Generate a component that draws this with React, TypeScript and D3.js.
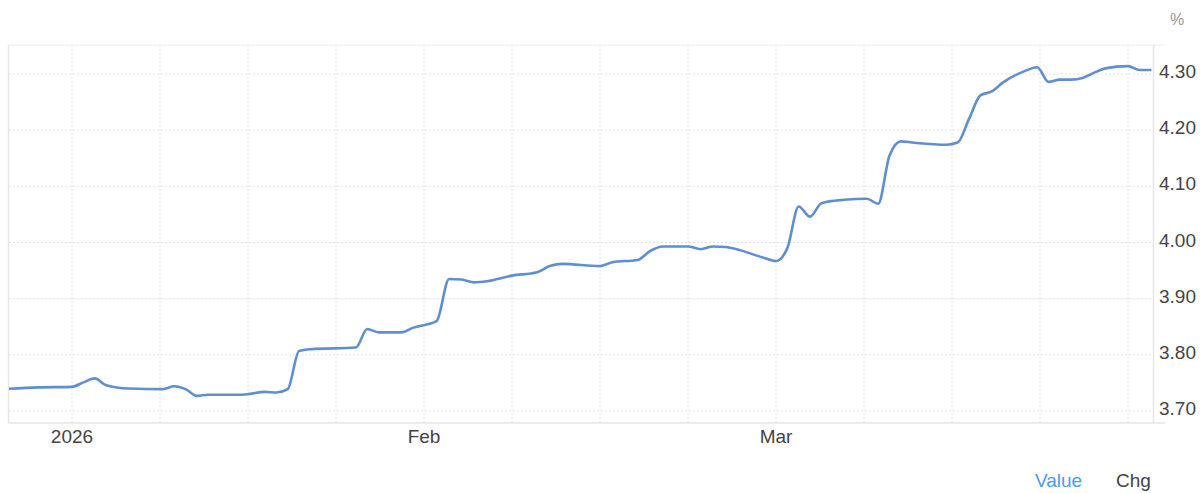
import * as d3 from "d3";
import React from "react";

// observations (date, %)
const dates = [
  "2025-12-26", "2025-12-29", "2026-01-01", "2026-01-02", "2026-01-03", "2026-01-04",
  "2026-01-06", "2026-01-09", "2026-01-10", "2026-01-11", "2026-01-12", "2026-01-13",
  "2026-01-16", "2026-01-18", "2026-01-19", "2026-01-20", "2026-01-21", "2026-01-22",
  "2026-01-26", "2026-01-27", "2026-01-28", "2026-01-30", "2026-01-31", "2026-02-02",
  "2026-02-03", "2026-02-04", "2026-02-05", "2026-02-06", "2026-02-08", "2026-02-10",
  "2026-02-11", "2026-02-12", "2026-02-15", "2026-02-16", "2026-02-18", "2026-02-19",
  "2026-02-20", "2026-02-22", "2026-02-23", "2026-02-24", "2026-02-25", "2026-02-28",
  "2026-03-01", "2026-03-02", "2026-03-03", "2026-03-04", "2026-03-05", "2026-03-07",
  "2026-03-09", "2026-03-10", "2026-03-11", "2026-03-12", "2026-03-13", "2026-03-16",
  "2026-03-17", "2026-03-18", "2026-03-19", "2026-03-20", "2026-03-21", "2026-03-23",
  "2026-03-24", "2026-03-25", "2026-03-26", "2026-03-27", "2026-03-28", "2026-03-29",
  "2026-03-30", "2026-04-01", "2026-04-02", "2026-04-03",
];
const values = [
  3.739, 3.742, 3.743, 3.751, 3.758, 3.746,
  3.740, 3.739, 3.744, 3.739, 3.727, 3.729,
  3.729, 3.734, 3.733, 3.739, 3.807, 3.810,
  3.813, 3.846, 3.840, 3.840, 3.848, 3.860,
  3.935, 3.934, 3.929, 3.931, 3.941, 3.947,
  3.958, 3.962, 3.958, 3.965, 3.969, 3.985,
  3.993, 3.993, 3.988, 3.993, 3.992, 3.973,
  3.967, 3.990, 4.064, 4.046, 4.070, 4.076,
  4.078, 4.069, 4.155, 4.180, 4.178, 4.174,
  4.178, 4.220, 4.262, 4.269, 4.285, 4.306,
  4.312, 4.286, 4.290, 4.290, 4.293, 4.302,
  4.310, 4.314, 4.307, 4.307,
];

const yTicks = [3.7, 3.8, 3.9, 4.0, 4.1, 4.2, 4.3];
const monthStarts = ["2025-12-01", "2026-01-01", "2026-02-01", "2026-03-01", "2026-04-01", "2026-05-01"];
const monthLabels = ["2026", "Feb", "Mar"];
const legendItems = ["Value", "Chg"];

const W = 1204, H = 493;
const left = 9, right = 1153, top = 45, bottom = 423;

export default function App() {
  const parse = d3.utcParse("%Y-%m-%d");
  const mDates = monthStarts.map((s) => parse(s) as Date);
  // each month gets equal width on this chart
  const x = d3.scaleUtc()
    .domain(mDates)
    .range(mDates.map((_, i) => 72 + (i - 1) * 352));
  const y = d3.scaleLinear().domain([3.7, 4.3]).range([411, 74]);

  const data = dates.map((d, i) => ({ d: parse(d) as Date, v: values[i] }));
  const line = d3.line<{ d: Date; v: number }>()
    .x((p) => x(p.d))
    .y((p) => y(p.v))
    .curve(d3.curveMonotoneX);

  // vertical grid at quarter-month steps
  const vGrid: number[] = [];
  for (let i = 1; i < 4; i++) {
    const a = x(mDates[i]), b = x(mDates[i + 1]);
    for (let q = 0; q < 4; q++) vGrid.push(a + (b - a) * q / 4);
  }
  vGrid.push(x(mDates[4]));

  const font = "Arial, 'Liberation Sans', sans-serif";

  return (
    <svg width={W} height={H} style={{ position: "absolute", left: 0, top: 0, background: "#fff" }} fontFamily={font}>
      <defs>
        <clipPath id="plot">
          <rect x={left} y={top} width={right - left} height={bottom - top} />
        </clipPath>
      </defs>
      {yTicks.map((t) => (
        <line key={"h" + t} x1={left} x2={right} y1={y(t)} y2={y(t)} stroke="#e2e2e2" strokeDasharray="2,2" />
      ))}
      {vGrid.map((gx, i) => (
        <line key={"v" + i} x1={gx} x2={gx} y1={top} y2={bottom} stroke="#e2e2e2" strokeDasharray="2,2" />
      ))}
      <line x1={left - 0.5} x2={1165} y1={top} y2={top} stroke="#ececec" />
      <line x1={left - 0.5} x2={1165} y1={bottom} y2={bottom} stroke="#e6e6e6" strokeWidth={1.5} />
      <line x1={left - 0.5} x2={left - 0.5} y1={top} y2={bottom} stroke="#e6e6e6" strokeWidth={1.5} />
      <line x1={right + 0.5} x2={right + 0.5} y1={top} y2={bottom} stroke="#e6e6e6" strokeWidth={1.5} />
      <path d={line(data) || ""} fill="none" stroke="#5f8fd0" strokeWidth={2.6} clipPath="url(#plot)" />
      {yTicks.map((t) => (
        <text key={"yl" + t} x={1159} y={y(t) + 4} fontSize={19} fill="#444">{t.toFixed(2)}</text>
      ))}
      <text x={1177} y={25} fontSize={16} fill="#999" textAnchor="middle">%</text>
      {monthLabels.map((m, i) => (
        <text key={m} x={x(mDates[i + 1])} y={443} fontSize={19} fill="#444" textAnchor="middle">{m}</text>
      ))}
      <text x={1035} y={487} fontSize={19} fill="#4b9bf5">{legendItems[0]}</text>
      <text x={1116} y={487} fontSize={19} fill="#444">{legendItems[1]}</text>
    </svg>
  );
}
